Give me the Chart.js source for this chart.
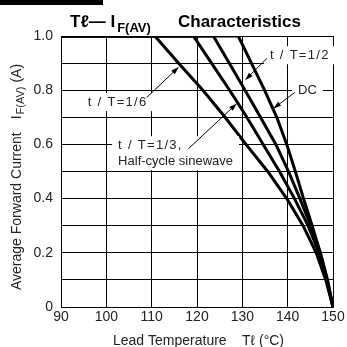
<!DOCTYPE html>
<html>
<head>
<meta charset="utf-8">
<script src="https://cdn.jsdelivr.net/npm/chart.js@4"></script>
<style>
  html, body { margin: 0; padding: 0; background: #fff; }
  #wrap { width: 347px; height: 347px; }
</style>
</head>
<body>
<div id="wrap"><canvas id="myChart" width="347" height="347"></canvas></div>
<script>
// lead temperature (deg C) vs. average forward current (A)
const tempTicks = [90, 100, 110, 120, 130, 140, 150];
const currentTickLabels = ["0", "0.2", "0.4", "0.6", "0.8", "1.0"];
const currentLevels = [1.0, 1.0, 0.9, 0.8, 0.7, 0.6, 0.5, 0.4, 0.3, 0.2, 0.1, 0];
const tempSixth = [90, 110.7, 115.9, 121.3, 126.2, 130.8, 135.6, 139.8, 143.4, 146.3, 148.4, 150];
const tempThird = [90, 119.2, 123.2, 127.2, 131.0, 134.6, 138.2, 141.5, 144.5, 146.9, 148.6, 150];
const tempHalf = [90, 123.6, 127.1, 130.6, 134.0, 137.4, 140.2, 142.7, 145.1, 147.2, 148.8, 150];
const tempDC = [90, 129.1, 132.0, 134.9, 137.6, 139.8, 141.7, 143.5, 145.4, 147.2, 148.7, 150];
const seriesNames = ["t/T=1/6", "t/T=1/3", "t/T=1/2", "DC"];

const FONT = '"Liberation Sans", Arial, sans-serif';

function toPoints(temps) {
    return temps.map((t, i) => ({ x: t, y: currentLevels[i] }));
}

// callout labels with leader arrows, placed in data units
const notes = [
    { lines: ["t / T=1/6"], pos: [95.9, 0.756], from: [108.9, 0.773], to: [116.0, 0.886] },
    { lines: ["t / T=1/2"], pos: [136.1, 0.929], from: [135.4, 0.917], to: [130.6, 0.837] },
    { lines: ["DC"], pos: [142.3, 0.8], from: [141.6, 0.792], to: [136.8, 0.732] },
    { lines: ["t / T=1/3,", "Half-cycle sinewave"], pos: [102.6, 0.597], from: [118.1, 0.584], to: [128.8, 0.751] }
];

function drawArrow(ctx, x1, y1, x2, y2) {
    const a = Math.atan2(y2 - y1, x2 - x1);
    ctx.beginPath();
    ctx.moveTo(x1, y1);
    ctx.lineTo(x2 - 5 * Math.cos(a), y2 - 5 * Math.sin(a));
    ctx.stroke();
    ctx.beginPath();
    ctx.moveTo(x2, y2);
    ctx.lineTo(x2 - 8 * Math.cos(a) + 2.5 * Math.sin(a), y2 - 8 * Math.sin(a) - 2.5 * Math.cos(a));
    ctx.lineTo(x2 - 8 * Math.cos(a) - 2.5 * Math.sin(a), y2 - 8 * Math.sin(a) + 2.5 * Math.cos(a));
    ctx.closePath();
    ctx.fill();
}

function spacingFor(s) {
    return s.startsWith("t / T") ? "1.3px" : "0px";
}

const notesPlugin = {
    id: "notes",
    afterDatasetsDraw(chart) {
        const ctx = chart.ctx;
        const X = v => chart.scales.x.getPixelForValue(v);
        const Y = v => chart.scales.y.getPixelForValue(v);
        ctx.save();
        ctx.font = "13px " + FONT;
        ctx.textBaseline = "middle";
        notes.forEach(n => {
            const x = X(n.pos[0]), y = Y(n.pos[1]);
            const w = Math.max(...n.lines.map(s => {
                ctx.letterSpacing = spacingFor(s);
                return ctx.measureText(s).width;
            }));
            ctx.fillStyle = "#fff";
            ctx.fillRect(x - 6, y - 9, w + 12, n.lines.length * 16 + 2);
            ctx.fillStyle = "#222";
            n.lines.forEach((s, i) => {
                ctx.letterSpacing = spacingFor(s);
                ctx.fillText(s, x, y + i * 16);
            });
            ctx.letterSpacing = "0px";
            ctx.strokeStyle = "#000";
            ctx.fillStyle = "#000";
            ctx.lineWidth = 1;
            drawArrow(ctx, X(n.from[0]), Y(n.from[1]), X(n.to[0]), Y(n.to[1]));
        });
        ctx.restore();
    },
    afterDraw(chart) {
        const ctx = chart.ctx;
        ctx.save();
        ctx.fillStyle = "#000";
        ctx.fillRect(0, 0, 103, 5);

        // title
        ctx.textBaseline = "alphabetic";
        let x = 70;
        ctx.font = "bold 17px " + FONT;
        ctx.fillText("T\u2113\u2014 I", x, 27);
        x += ctx.measureText("T\u2113\u2014 I").width + 2;
        ctx.font = "bold 13px " + FONT;
        ctx.fillText("F(AV)", x, 32);
        ctx.font = "bold 17px " + FONT;
        ctx.fillText("Characteristics", 178, 27);

        // x axis title
        ctx.fillStyle = "#222";
        ctx.font = "14px " + FONT;
        ctx.fillText("Lead Temperature", 113, 345);
        ctx.fillText("T\u2113 (\u00b0C)", 242, 345);

        // y axis title
        ctx.translate(21, 290);
        ctx.rotate(-Math.PI / 2);
        ctx.fillText("Average Forward Current", 0, 0);
        let yx = ctx.measureText("Average Forward Current").width + 13;
        ctx.fillText("I", yx, 0);
        yx += ctx.measureText("I").width + 1;
        ctx.font = "11px " + FONT;
        ctx.fillText("F(AV)", yx, 3);
        yx += ctx.measureText("F(AV)").width;
        ctx.font = "14px " + FONT;
        ctx.fillText(" (A)", yx, 0);
        ctx.restore();
    }
};

const datasets = [tempSixth, tempThird, tempHalf, tempDC].map((temps, i) => ({
    label: seriesNames[i],
    data: toPoints(temps),
    borderColor: "#000",
    backgroundColor: "#000",
    borderWidth: 3,
    pointRadius: 0,
    tension: 0,
    fill: false
}));

new Chart("myChart", {
    type: "line",
    data: { datasets: datasets },
    options: {
        responsive: false,
        animation: false,
        events: [],
        layout: { padding: { top: 36, right: 14, left: 0, bottom: 0 } },
        plugins: { legend: { display: false }, tooltip: { enabled: false } },
        scales: {
            x: {
                type: "linear",
                min: 90,
                max: 150,
                afterFit: s => { s.height = 40; },
                afterBuildTicks: s => { s.ticks = tempTicks.map(v => ({ value: v })); },
                ticks: { color: "#222", font: { family: FONT, size: 14 }, padding: 2, maxRotation: 0,
                    callback: v => String(v) },
                grid: { color: "#000", lineWidth: 1, drawTicks: false },
                border: { color: "#000", width: 1 }
            },
            y: {
                min: 0,
                max: 1,
                afterFit: s => { s.width = 61; },
                ticks: { stepSize: 0.1, color: "#222", font: { family: FONT, size: 14 }, padding: 8,
                    autoSkip: false,
                    callback: v => {
                        const k = Math.round(v * 10);
                        return k % 2 === 0 ? currentTickLabels[k / 2] : "";
                    } },
                grid: { color: "#000", lineWidth: 1, drawTicks: false },
                border: { color: "#000", width: 1 }
            }
        }
    },
    plugins: [notesPlugin]
});
</script>
</body>
</html>
